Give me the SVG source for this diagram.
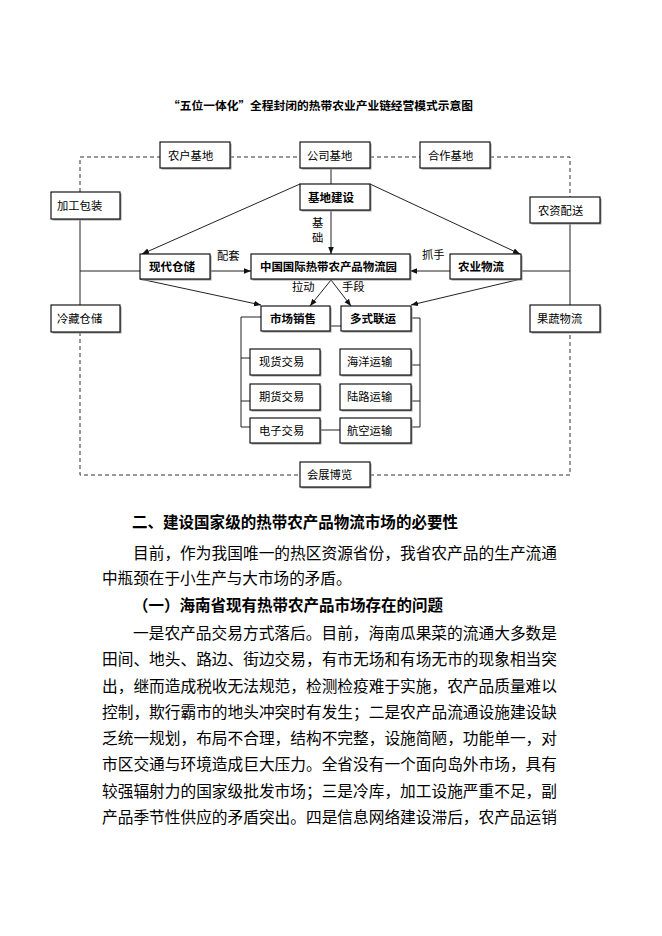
<svg xmlns="http://www.w3.org/2000/svg" width="662" height="936" viewBox="0 0 662 936">
<defs>
<style>
.box{fill:#fff;stroke:#000;stroke-width:1.1}
.sh{fill:#999;stroke:none}
.lb{font-family:"Noto Sans CJK SC","Liberation Sans",sans-serif;font-size:11.3px;fill:#000}
.bl{font-family:"Noto Sans CJK SC","Liberation Sans",sans-serif;font-size:11.5px;font-weight:bold;fill:#000}
.ln{fill:none;stroke:#222;stroke-width:1}
.ds{fill:none;stroke:#333;stroke-width:1;stroke-dasharray:4,3}
.ar{fill:none;stroke:#222;stroke-width:1;marker-end:url(#ah)}
.tx{font-family:"Noto Sans CJK SC","Liberation Sans",sans-serif;font-size:15.6px;fill:#000}
.hd{font-family:"Noto Sans CJK SC","Liberation Sans",sans-serif;font-size:15.6px;font-weight:bold;fill:#000}
</style>
<marker id="ah" viewBox="0 0 10 10" refX="10" refY="5" markerWidth="7" markerHeight="7" orient="auto" markerUnits="userSpaceOnUse">
<path d="M0,1 L10,5 L0,9 z" fill="#111"/>
</marker>
</defs>
<rect width="662" height="936" fill="#fff"/>
<text x="168" y="109.5" class="bl" textLength="305" lengthAdjust="spacingAndGlyphs" style="font-size:11.7px">“五位一体化”全程封闭的热带农业产业链经营模式示意图</text>

<g id="connectors">
<path class="ds" d="M80,192 V157 H160 M230,157 H300 M370,157 H420 M490,157 H570 V197"/>
<path class="ds" d="M80,332 V475 H300 M370,475 H570 V332"/>
<path class="ln" d="M80,219 V305 M80,271 H140 M570,223 V305 M521,271 H570"/>
<path class="ln" d="M331,168 V184"/>
<path class="ar" d="M331,210 V254"/>
<path class="ar" d="M210,271 H251"/>
<path class="ar" d="M450,271 H410"/>
<path class="ar" d="M300,184 L142,254"/>
<path class="ar" d="M370,184 L520,254"/>
<path class="ar" d="M331,280 L310,306"/>
<path class="ar" d="M331,280 L351,306"/>
<path class="ar" d="M140,279 L261,305"/>
<path class="ar" d="M521,279 L411,305"/>
<path class="ln" d="M261,317 H241 V427 H250 M241,358 H250 M241,401 H250"/>
<path class="ln" d="M411,318 H420 V427 H411 M420,365 H411 M420,401 H411"/>
<path class="ln" d="M320,430 H340 M330,326 H341"/>
<text x="312" y="227" class="lb">基</text>
<text x="312" y="242" class="lb">础</text>
<text x="217" y="260" class="lb">配套</text>
<text x="422" y="259" class="lb">抓手</text>
<text x="292" y="291" class="lb">拉动</text>
<text x="342" y="291" class="lb">手段</text>
</g>

<g id="n-nonghu"><rect class="sh" x="161.5" y="143.5" width="70" height="26"/><rect class="box" x="160" y="142" width="70" height="26"/><text class="lb" x="168" y="160">农户基地</text></g>
<g id="n-gongsi"><rect class="sh" x="301.5" y="143.5" width="70" height="26"/><rect class="box" x="300" y="142" width="70" height="26"/><text class="lb" x="307" y="160">公司基地</text></g>
<g id="n-hezuo"><rect class="sh" x="421.5" y="143.5" width="70" height="26"/><rect class="box" x="420" y="142" width="70" height="26"/><text class="lb" x="428" y="160">合作基地</text></g>
<g id="n-jiagong"><rect class="sh" x="52.5" y="193.5" width="69" height="27"/><rect class="box" x="51" y="192" width="69" height="27"/><text class="lb" x="57" y="210">加工包装</text></g>
<g id="n-nongzi"><rect class="sh" x="531.5" y="198.5" width="70" height="26"/><rect class="box" x="530" y="197" width="70" height="26"/><text class="lb" x="538" y="215">农资配送</text></g>
<g id="n-jidi"><rect class="sh" x="301.5" y="185.5" width="70" height="26"/><rect class="box" x="300" y="184" width="70" height="26"/><text class="bl" x="308" y="201.5">基地建设</text></g>
<g id="n-xiandai"><rect class="sh" x="141.5" y="255.5" width="70" height="25"/><rect class="box" x="140" y="254" width="70" height="25"/><text class="bl" x="149" y="271">现代仓储</text></g>
<g id="n-zhongguo"><rect class="sh" x="252.5" y="255.5" width="159" height="25"/><rect class="box" x="251" y="254" width="159" height="25"/><text class="bl" x="260" y="271" textLength="137" lengthAdjust="spacingAndGlyphs">中国国际热带农产品物流园</text></g>
<g id="n-nongye"><rect class="sh" x="451.5" y="255.5" width="71" height="25"/><rect class="box" x="450" y="254" width="71" height="25"/><text class="bl" x="458" y="271">农业物流</text></g>
<g id="n-lengcang"><rect class="sh" x="52.5" y="306.5" width="69" height="27"/><rect class="box" x="51" y="305" width="69" height="27"/><text class="lb" x="57" y="323">冷藏仓储</text></g>
<g id="n-guoshu"><rect class="sh" x="531.5" y="306.5" width="70" height="27"/><rect class="box" x="530" y="305" width="70" height="27"/><text class="lb" x="537" y="323">果蔬物流</text></g>
<g id="n-shichang"><rect class="sh" x="262.5" y="307.5" width="69" height="25"/><rect class="box" x="261" y="306" width="69" height="25"/><text class="bl" x="270" y="323">市场销售</text></g>
<g id="n-duoshi"><rect class="sh" x="342.5" y="307.5" width="70" height="25"/><rect class="box" x="341" y="306" width="70" height="25"/><text class="bl" x="350" y="323">多式联运</text></g>
<g id="n-xianhuo"><rect class="sh" x="251.5" y="350.5" width="70" height="26"/><rect class="box" x="250" y="349" width="70" height="26"/><text class="lb" x="259" y="366">现货交易</text></g>
<g id="n-qihuo"><rect class="sh" x="251.5" y="385.5" width="70" height="26"/><rect class="box" x="250" y="384" width="70" height="26"/><text class="lb" x="259" y="401">期货交易</text></g>
<g id="n-dianzi"><rect class="sh" x="251.5" y="419.5" width="70" height="25"/><rect class="box" x="250" y="418" width="70" height="25"/><text class="lb" x="259" y="435">电子交易</text></g>
<g id="n-haiyang"><rect class="sh" x="341.5" y="350.5" width="71" height="26"/><rect class="box" x="340" y="349" width="71" height="26"/><text class="lb" x="347" y="366">海洋运输</text></g>
<g id="n-lulu"><rect class="sh" x="341.5" y="385.5" width="71" height="26"/><rect class="box" x="340" y="384" width="71" height="26"/><text class="lb" x="347" y="401">陆路运输</text></g>
<g id="n-hangkong"><rect class="sh" x="341.5" y="419.5" width="71" height="25"/><rect class="box" x="340" y="418" width="71" height="25"/><text class="lb" x="347" y="435">航空运输</text></g>
<g id="n-huizhan"><rect class="sh" x="301.5" y="463.5" width="70" height="25"/><rect class="box" x="300" y="462" width="70" height="25"/><text class="lb" x="307" y="479">会展博览</text></g>

<g id="body">
<text class="hd" x="132" y="528" textLength="326" lengthAdjust="spacingAndGlyphs">二、建设国家级的热带农产品物流市场的必要性</text>
<text class="tx" x="133" y="559" textLength="424" lengthAdjust="spacingAndGlyphs">目前，作为我国唯一的热区资源省份，我省农产品的生产流通</text>
<text class="tx" x="102" y="584">中瓶颈在于小生产与大市场的矛盾。</text>
<text class="hd" x="133" y="611" textLength="310" lengthAdjust="spacingAndGlyphs">（一）海南省现有热带农产品市场存在的问题</text>
<text class="tx" x="133" y="639" textLength="424" lengthAdjust="spacingAndGlyphs">一是农产品交易方式落后。目前，海南瓜果菜的流通大多数是</text>
<text class="tx" x="102" y="665" textLength="455" lengthAdjust="spacingAndGlyphs">田间、地头、路边、街边交易，有市无场和有场无市的现象相当突</text>
<text class="tx" x="102" y="692" textLength="455" lengthAdjust="spacingAndGlyphs">出，继而造成税收无法规范，检测检疫难于实施，农产品质量难以</text>
<text class="tx" x="102" y="718" textLength="455" lengthAdjust="spacingAndGlyphs">控制，欺行霸市的地头冲突时有发生；二是农产品流通设施建设缺</text>
<text class="tx" x="102" y="744" textLength="455" lengthAdjust="spacingAndGlyphs">乏统一规划，布局不合理，结构不完整，设施简陋，功能单一，对</text>
<text class="tx" x="102" y="770" textLength="455" lengthAdjust="spacingAndGlyphs">市区交通与环境造成巨大压力。全省没有一个面向岛外市场，具有</text>
<text class="tx" x="102" y="797" textLength="455" lengthAdjust="spacingAndGlyphs">较强辐射力的国家级批发市场；三是冷库，加工设施严重不足，副</text>
<text class="tx" x="102" y="823" textLength="455" lengthAdjust="spacingAndGlyphs">产品季节性供应的矛盾突出。四是信息网络建设滞后，农产品运销</text>
</g>
</svg>
